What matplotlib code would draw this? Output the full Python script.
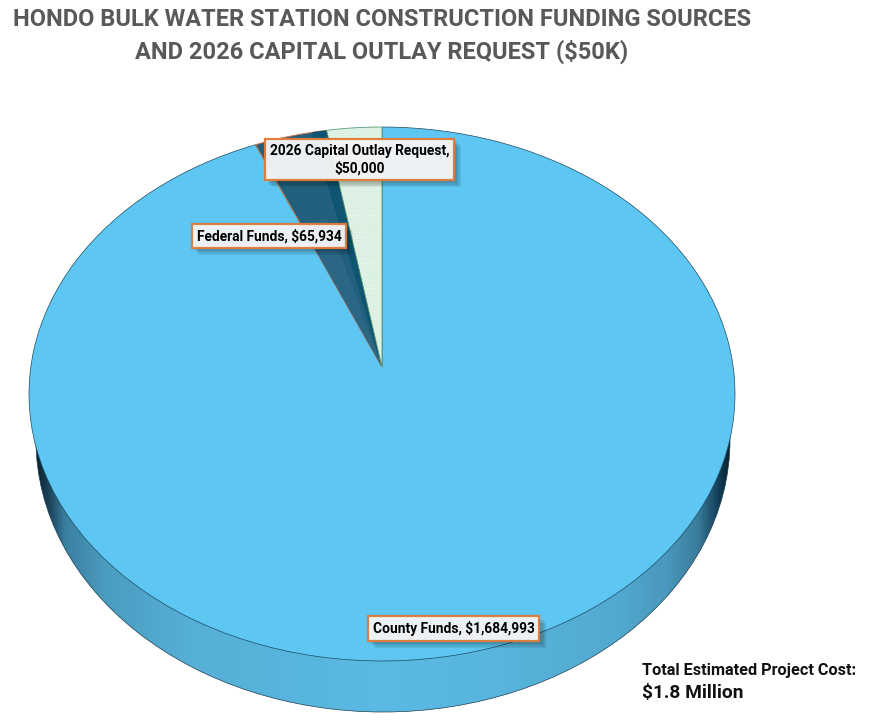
import numpy as np
import matplotlib
matplotlib.use('Agg')
import matplotlib.pyplot as plt
import matplotlib.patheffects as pe
from matplotlib.colors import LinearSegmentedColormap
from matplotlib.patches import Ellipse, Wedge
from matplotlib.transforms import Transform

# Data
sources = ['County Funds', 'Federal Funds', '2026 Capital Outlay Request']
amounts = [1684993, 65934, 50000]
total_cost = '$1.8 Million'
title_lines = ['HONDO BULK WATER STATION CONSTRUCTION FUNDING SOURCES',
               'AND 2026 CAPITAL OUTLAY REQUEST ($50K)']


class TiltedPie(Transform):
    # maps the unit circle of the pie onto the tilted top face (pixels)
    input_dims = 2
    output_dims = 2

    def transform_non_affine(self, values):
        xy = np.asarray(values, dtype=float)
        u, v = xy[:, 0], xy[:, 1]
        w = 1 + 0.1011 * v
        return np.column_stack([382 + 351.2 * u / w, (367 - 227.16 * v) / w])


fig = plt.figure(figsize=(8.7, 7.2), dpi=100)
ax = fig.add_axes([0, 0, 1, 1])

# Side wall of the pie
wall_cmap = LinearSegmentedColormap.from_list('wall', [
    (0.0, '#0b2230'), (0.02, '#1f4a62'), (0.04, '#3a7fa0'), (0.10, '#4b9cc1'),
    (0.22, '#56afd6'), (0.50, '#5abae3'), (0.68, '#58b4dc'), (0.84, '#52a9d0'),
    (0.91, '#4a98bd'), (0.955, '#3a7d9c'), (0.985, '#12405a'), (1.0, '#0b2230')])
gradient = np.linspace(0, 1, 512).reshape(1, -1)
wall = ax.imshow(gradient, cmap=wall_cmap, extent=(36, 730, 712, 168), aspect='auto', zorder=1)
base = Ellipse((383, 440), 694, 544, facecolor='none', edgecolor='#1b3f52', linewidth=0.5, zorder=1.5)
ax.add_patch(base)
wall.set_clip_path(base)

# Top face
wedges, _ = ax.pie(amounts, startangle=90, counterclock=False, radius=1,
                   colors=['#5ec6f2', '#215f7c', 'white'])
tilt = TiltedPie() + ax.transData
for w in wedges:
    w.set_transform(tilt)
    w.set_zorder(2)
wedges[0].set_edgecolor('#1c4a60')
wedges[0].set_linewidth(0.5)
wedges[1].set_edgecolor('#c8794a')
wedges[1].set_linewidth(0.7)
matplotlib.rcParams['hatch.linewidth'] = 0.3
wedges[2].set_edgecolor('#b5e2c5')
wedges[2].set_hatch('........')
wedges[2].set_linewidth(0)

# Shading inside the federal slice
outlay_deg = 360 * amounts[2] / sum(amounts)
federal_deg = 360 * amounts[1] / sum(amounts)
stripe = Wedge((0, 0), 1, 90 + outlay_deg, 90 + outlay_deg + 2.7, facecolor='#0f5470', edgecolor='none', zorder=2.1)
light = Wedge((0, 0), 0.62, 90 + outlay_deg + federal_deg * 0.42, 90 + outlay_deg + federal_deg,
              facecolor='#2b6785', edgecolor='none', zorder=2.1)
for p in (stripe, light):
    ax.add_patch(p)
    p.set_transform(tilt)

# Edge lines of the outlay slice
edge = Wedge((0, 0), 1, 90, 90 + outlay_deg, facecolor='none', edgecolor='#5a9c78', linewidth=0.6, zorder=2.2)
ax.add_patch(edge)
edge.set_transform(tilt)

ax.set_aspect('auto')
ax.set_xlim(0, 870)
ax.set_ylim(720, 0)
ax.set_axis_off()

# Data labels
label_font = ['Roboto', 'DejaVu Sans']
labels = [f'{sources[0]}, ${amounts[0]:,}',
          f'{sources[1]}, ${amounts[1]:,}',
          f'{sources[2]},\n${amounts[2]:,}']
label_pos = [(453.5, 628.5), (269, 236), (359.5, 159.5)]
soft_shadow = [pe.SimplePatchShadow(offset=(o, -o), shadow_rgbFace='black', alpha=0.07) for o in (5, 4, 3, 2)]
for text, (x, y) in zip(labels, label_pos):
    t = ax.text(x, y, text, ha='center', va='center', fontsize=9.9, fontweight='bold',
                family=label_font, color='black', linespacing=1.3, zorder=5,
                bbox=dict(boxstyle='square,pad=0.36', facecolor='#f5f6f7', alpha=0.96,
                          edgecolor='#e07b39', linewidth=1.6))
    t.get_bbox_patch().set_path_effects(soft_shadow + [pe.Normal()])

# Title
for line, y in zip(title_lines, [19, 52]):
    ax.text(382, y, line, ha='center', va='center', fontsize=17, fontweight='bold',
            family=label_font, color='#595959')

# Total cost note
ax.text(642, 670, 'Total Estimated Project Cost:', ha='left', va='center', fontsize=11.7,
        fontweight='bold', family=label_font, color='#111111')
ax.text(642, 693, total_cost, ha='left', va='center', fontsize=13.8,
        fontweight='bold', family=label_font, color='#111111')

fig.savefig('out.png', dpi=100, facecolor='white')
